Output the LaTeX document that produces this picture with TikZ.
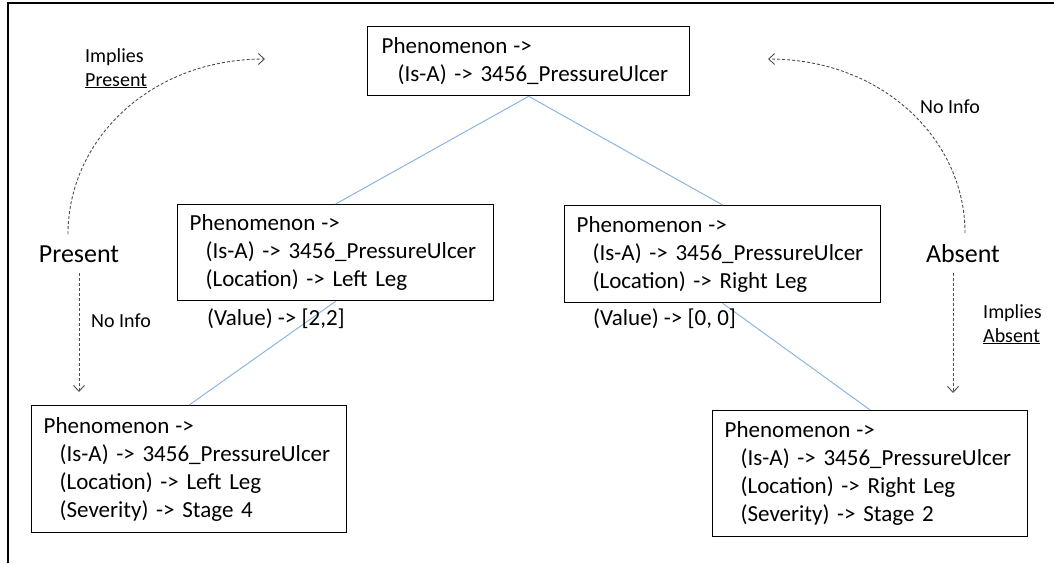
\documentclass[tikz,border=0pt]{standalone}
\usepackage{fontspec}
\setmainfont{Carlito}
\usepackage{xcolor}
\usetikzlibrary{arrows.meta, positioning}
\definecolor{treeblue}{RGB}{141,180,226}
\newcommand{\indentline}{\hspace*{16pt}}
\newcommand{\phen}{Phenomenon\hspace{6pt}->}
\hyphenpenalty=10000

\begin{document}
\begin{tikzpicture}[
    x=1pt, y=-1pt,
    frame/.style={draw, line width=1.3pt, anchor=north west, align=left, inner xsep=12pt, inner ysep=0pt, font=\fontsize{23}{28}\selectfont},
    note/.style={anchor=base west, inner sep=0pt, font=\fontsize{23}{28}\selectfont},
    small/.style={anchor=base west, align=left, inner sep=0pt, font=\fontsize{20}{24}\selectfont},
    state/.style={anchor=base, inner xsep=0pt, inner ysep=11pt, font=\fontsize{26}{30}\selectfont},
    link/.style={draw=treeblue, line width=1pt},
    flow/.style={draw=black!70, dash pattern=on 3pt off 2pt, line width=0.9pt, -{Straight Barb[length=6pt,width=11pt]}}
]
\useasboundingbox (0,0) rectangle (1054,563);

% Page edge
\draw[line width=1.5pt] (8,563) -- (8,3) -- (1054,3);

% Phenomenon frames
\node[frame, inner xsep=14pt, text width=294pt, minimum height=69pt] (root) at (367,26) {\phen\\\indentline(Is-A) -> 3456\_PressureUlcer};
\node[frame, text width=292pt, minimum height=96pt] (left) at (177,204) {\phen\\\indentline(Is-A) -> 3456\_PressureUlcer\\\indentline(Location) -> Left Leg};
\node[frame, text width=292pt, minimum height=97pt] (right) at (564,205) {\phen\\\indentline(Is-A) -> 3456\_PressureUlcer\\\indentline(Location) -> Right Leg};
\node[frame, text width=291pt, minimum height=127pt] (leftleaf) at (31,405) {\phen\\\indentline(Is-A) -> 3456\_PressureUlcer\\\indentline(Location) -> Left Leg\\\indentline(Severity) -> Stage 4};
\node[frame, text width=291pt, minimum height=126pt] (rightleaf) at (712,410) {\phen\\\indentline(Is-A) -> 3456\_PressureUlcer\\\indentline(Location) -> Right Leg\\\indentline(Severity) -> Stage 2};

% Tree links
\draw[link] (root.south) -- (left.north);
\draw[link] (root.south) -- (right.north);
\draw[link] (left.south) -- (leftleaf.north);
\draw[link] (right.south) -- (rightleaf.north);

% Values
\node[note] (lval) at (207,325) {(Value) -> [2,2]};
\node[note] (rval) at (593,325) {(Value) -> [0, 0]};

% States
\node[state] (present) at (79,262) {Present};
\node[state] (absent) at (963,262) {Absent};

% Labels
\node[small] (impp) at (85,86) {Implies\\\underline{Present}};
\node[small] (impa) at (983,342) {Implies\\\underline{Absent}};
\node[small] (noinfol) at (91,327) {No Info};
\node[small] (noinfor) at (920,113) {No Info};

% Dashed flows
\coordinate (presentTip) at (265,59);
\coordinate (absentTip) at (768,59);
\coordinate (presentEnd) at (79,392);
\coordinate (absentEnd) at (953,393);
\draw[flow] ([xshift=-11pt]present.north) .. controls (68,140) and (150,59) .. (presentTip);
\draw[flow] ([xshift=2pt]absent.north) .. controls (965,140) and (883,59) .. (absentTip);
\draw[flow] (present.south) -- (presentEnd);
\draw[flow] (absent.south -| absentEnd) -- (absentEnd);

\end{tikzpicture}
\end{document}
